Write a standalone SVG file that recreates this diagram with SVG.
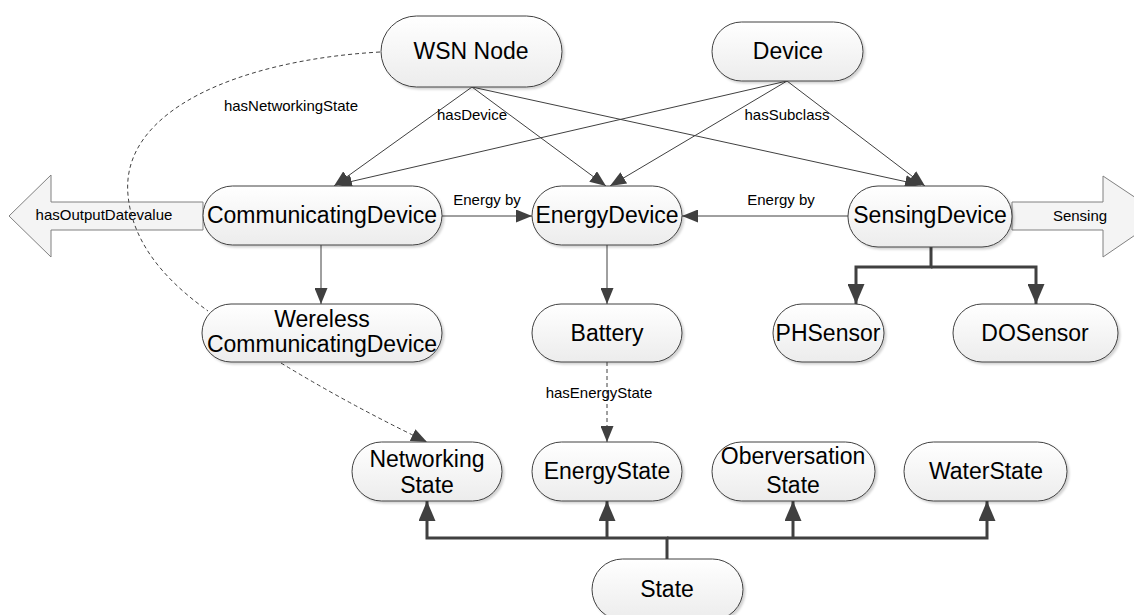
<svg xmlns="http://www.w3.org/2000/svg" width="1134" height="615" viewBox="0 0 1134 615">
<defs>
<linearGradient id="g" x1="0" y1="0" x2="0" y2="1">
<stop offset="0" stop-color="#ffffff"/>
<stop offset="1" stop-color="#ececec"/>
</linearGradient>
<filter id="sh" x="-10%" y="-10%" width="125%" height="135%">
<feDropShadow dx="2" dy="2" stdDeviation="1.2" flood-color="#000" flood-opacity="0.18"/>
</filter>
<marker id="a" markerUnits="userSpaceOnUse" markerWidth="16" markerHeight="13" refX="16" refY="6.5" orient="auto">
<path d="M0,0 L16,6.5 L0,13 z" fill="#404040"/>
</marker>
<marker id="b" markerUnits="userSpaceOnUse" markerWidth="20" markerHeight="17" refX="20" refY="8.5" orient="auto">
<path d="M0,0 L20,8.5 L0,17 z" fill="#404040"/>
</marker>
</defs>
<style>
.n rect{fill:url(#g);stroke:#404040;stroke-width:1;filter:url(#sh)}
.t{font-family:"Liberation Sans",Arial,sans-serif;font-size:23px;fill:#000;text-anchor:middle}
.l{font-family:"Liberation Sans",Arial,sans-serif;font-size:15px;fill:#000;text-anchor:middle}
.c{stroke:#404040;stroke-width:1;fill:none}
.d{stroke:#404040;stroke-width:1;fill:none;stroke-dasharray:4,3}
.k{stroke:#404040;stroke-width:3;fill:none}
.big{fill:#f4f4f4;stroke:#808080;stroke-width:1}
</style>

<g id="big-arrows">
<polygon class="big" points="9,216 51,175 51,202 203,202 203,230 51,230 51,257"/>
<text class="l" x="104" y="220">hasOutputDatevalue</text>
<polygon class="big" points="1012,202 1103,202 1103,176 1163,216 1103,257 1103,230 1012,230"/>
<text class="l" x="1080" y="221">Sensing</text>
</g>

<g id="connectors">
<path class="d" d="M380,52 C240,60 120,110 128,195 C133,250 175,287 208,311"/>
<path class="d" d="M281,363 Q350,405 427,442" marker-end="url(#a)"/>
<line class="c" x1="472" y1="87" x2="334" y2="186" marker-end="url(#a)"/>
<line class="c" x1="787" y1="81" x2="336" y2="185" marker-end="url(#a)"/>
<line class="c" x1="472" y1="87" x2="606" y2="186" marker-end="url(#a)"/>
<line class="c" x1="787" y1="81" x2="610" y2="186" marker-end="url(#a)"/>
<line class="c" x1="472" y1="87" x2="921" y2="185" marker-end="url(#a)"/>
<line class="c" x1="787" y1="81" x2="925" y2="186" marker-end="url(#a)"/>
<line class="c" x1="442" y1="216" x2="532" y2="216" marker-end="url(#a)"/>
<line class="c" x1="848" y1="216" x2="682" y2="216" marker-end="url(#a)"/>
<line class="c" x1="321" y1="245" x2="321" y2="304" marker-end="url(#a)"/>
<line class="c" x1="607" y1="245" x2="607" y2="304" marker-end="url(#a)"/>
<line class="d" x1="607" y1="362" x2="607" y2="442" marker-end="url(#a)"/>
<path class="k" d="M931,247 V267 H856 V304" marker-end="url(#b)"/>
<path class="k" d="M931,267 H1036 V304" marker-end="url(#b)"/>
<path class="k" d="M667,559 V538 H427 V501" marker-end="url(#b)"/>
<path class="k" d="M607,538 V501" marker-end="url(#b)"/>
<path class="k" d="M667,538 H987 V501" marker-end="url(#b)"/>
<path class="k" d="M793,538 V501" marker-end="url(#b)"/>
<text class="l" x="291" y="111">hasNetworkingState</text>
<text class="l" x="472" y="120">hasDevice</text>
<text class="l" x="787" y="120">hasSubclass</text>
<text class="l" x="487" y="205">Energy by</text>
<text class="l" x="781" y="205">Energy by</text>
<text class="l" x="599" y="398">hasEnergyState</text>
</g>

<g id="wsn-node" class="n"><rect x="381" y="16" width="181" height="71" rx="35.5"/><text class="t" x="471" y="59">WSN Node</text></g>
<g id="device" class="n"><rect x="712" y="22" width="151" height="59" rx="29.5"/><text class="t" x="788" y="59">Device</text></g>
<g id="communicating-device" class="n"><rect x="203" y="186" width="239" height="59" rx="29.5"/><text class="t" x="322" y="223">CommunicatingDevice</text></g>
<g id="energy-device" class="n"><rect x="532" y="186" width="150" height="59" rx="29.5"/><text class="t" x="607" y="223">EnergyDevice</text></g>
<g id="sensing-device" class="n"><rect x="848" y="186" width="164" height="61" rx="30"/><text class="t" x="930" y="223">SensingDevice</text></g>
<g id="wireless-device" class="n"><rect x="202" y="304" width="240" height="58" rx="29"/><text class="t" x="322" y="327">Wereless</text><text class="t" x="322" y="352">CommunicatingDevice</text></g>
<g id="battery" class="n"><rect x="532" y="304" width="150" height="58" rx="29"/><text class="t" x="607" y="341">Battery</text></g>
<g id="phsensor" class="n"><rect x="773" y="304" width="111" height="58" rx="29"/><text class="t" x="828" y="341">PHSensor</text></g>
<g id="dosensor" class="n"><rect x="953" y="304" width="165" height="58" rx="29"/><text class="t" x="1035" y="341">DOSensor</text></g>
<g id="networking-state" class="n"><rect x="352" y="442" width="150" height="59" rx="29.5"/><text class="t" x="427" y="467">Networking</text><text class="t" x="427" y="493">State</text></g>
<g id="energy-state" class="n"><rect x="532" y="442" width="150" height="59" rx="29.5"/><text class="t" x="607" y="479">EnergyState</text></g>
<g id="oberversation-state" class="n"><rect x="712" y="442" width="163" height="59" rx="29.5"/><text class="t" x="793" y="464">Oberversation</text><text class="t" x="793" y="493">State</text></g>
<g id="water-state" class="n"><rect x="904" y="442" width="163" height="59" rx="29.5"/><text class="t" x="986" y="479">WaterState</text></g>
<g id="state" class="n"><rect x="592" y="559" width="151" height="61" rx="30.5"/><text class="t" x="667" y="597">State</text></g>
</svg>
